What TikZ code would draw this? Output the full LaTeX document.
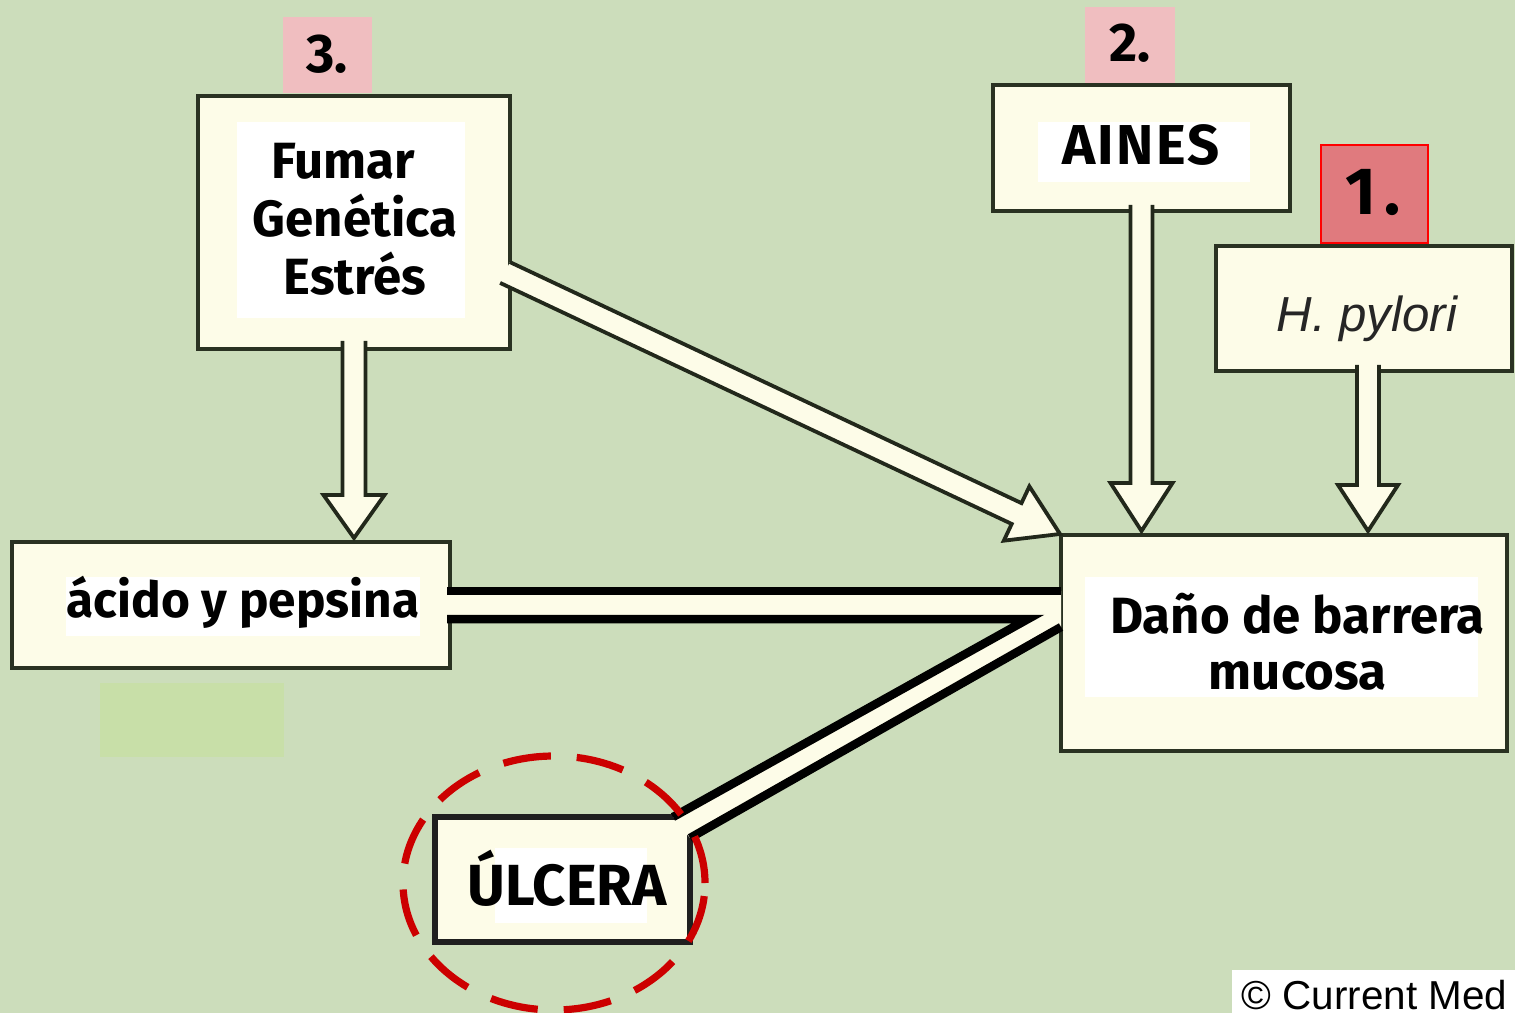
\documentclass[tikz,border=0pt]{standalone}
\usepackage{fontspec}
\setmainfont{Fira Sans}
\newfontfamily\arialf{Liberation Sans}
\usetikzlibrary{calc}
\definecolor{bg}{RGB}{204,221,187}
\definecolor{cream}{RGB}{253,252,232}
\definecolor{edge}{RGB}{42,50,34}
\definecolor{pinkl}{RGB}{240,190,192}
\definecolor{redl}{RGB}{224,122,126}
\definecolor{redd}{RGB}{204,0,0}
\definecolor{patchc}{RGB}{200,223,168}
\newcommand\myLbl{\fontsize{14.5}{16.5}\selectfont\bfseries}
\newcommand\myNum{\fontsize{15.5}{18}\selectfont\bfseries}
\newcommand\myBig{\fontsize{19}{22}\selectfont\bfseries}
% #1 start, #2 tip, #3 shaft half width, #4 head half width, #5 head length
\newcommand{\blockarr}[5]{%
  \coordinate (hb) at ($(#2)!#5!(#1)$);
  \fill[cream] ($(#1)!#3!90:(#2)$) -- ($(hb)!#3!90:(#2)$) -- ($(hb)!#4!90:(#2)$) -- (#2)
    -- ($(hb)!#4!-90:(#2)$) -- ($(hb)!#3!-90:(#2)$) -- ($(#1)!#3!-90:(#2)$) -- cycle;
  \draw[arrline] ($(#1)!#3!90:(#2)$) -- ($(hb)!#3!90:(#2)$) -- ($(hb)!#4!90:(#2)$) -- (#2)
    -- ($(hb)!#4!-90:(#2)$) -- ($(hb)!#3!-90:(#2)$) -- ($(#1)!#3!-90:(#2)$);
}
\begin{document}
\begin{tikzpicture}[x=0.1mm,y=-0.1mm,
  box/.style={draw=edge,line width=0.45mm,fill=cream,inner sep=0pt,outer sep=0pt},
  lbl/.style={font=\myLbl,text=black,inner sep=0pt},
  num/.style={font=\myNum,text=black,inner sep=0pt},
  arrline/.style={draw=edge!80!black,line width=0.38mm,line join=miter},
  band/.style={draw=black,line width=0.85mm}]
\useasboundingbox (0,0) rectangle (1515,1013);
\fill[bg] (0,0) rectangle (1515,1013);
\fill[patchc] (100,683) rectangle (284,757);

% boxes
\node[box,minimum width=31.2mm,minimum height=25.3mm] (fumar) at (354,222.5) {};
\node[box,minimum width=29.7mm,minimum height=12.6mm] (aines) at (1141.5,148) {};
\node[box,minimum width=29.6mm,minimum height=12.5mm] (hpyl) at (1364,308.5) {};
\node[box,minimum width=43.8mm,minimum height=12.6mm] (acido) at (231,605) {};
\node[box,minimum width=44.6mm,minimum height=21.6mm] (dano) at (1284,643) {};
\node[box,draw=black!88,line width=0.65mm,minimum width=25.5mm,minimum height=12.5mm] (ulcera) at (562.5,879.5) {};

% white panels
\fill[white] (237,122) rectangle (465,318);
\fill[white] (1038,122) rectangle (1250,182);
\fill[white] (66,577) rectangle (420,636);
\fill[white] (1085,577) rectangle (1478,697);
\fill[white] (495,848) rectangle (647,923);

% number tags
\fill[pinkl] (283,17) rectangle (372,93);
\fill[pinkl] (1085,7) rectangle (1175,83);
\filldraw[fill=redl,draw=red,line width=0.15mm] (1321,145) rectangle (1428,243);
\node[num,anchor=base] (n3) at (327,73) {3.};
\node[num,anchor=base] (n2) at (1130,62) {2.};
\node[num,font=\myBig,anchor=base] (n1) at (1373,215) {1\kern0.12em.};

% block arrows
\coordinate (a1s) at ($(fumar.south)+(0,-8)$);
\coordinate (a1e) at ($(fumar.south |- acido.north)+(0,-4)$);
\blockarr{a1s}{a1e}{1.15mm}{3.05mm}{4.3mm}
\coordinate (a2s) at ($(fumar.east)+(-5,50)$);
\coordinate (a2e) at ($(dano.north west)+(-1,-1)$);
\blockarr{a2s}{a2e}{1.15mm}{3.0mm}{4.8mm}
\coordinate (a3s) at ($(aines.south)+(0,-6)$);
\coordinate (a3e) at ($(aines.south |- dano.north)+(0,-4)$);
\blockarr{a3s}{a3e}{1.1mm}{3.1mm}{4.8mm}
\coordinate (a4s) at ($(hpyl.south)+(4,-6)$);
\coordinate (a4e) at ($(hpyl.south |- dano.north)+(4,-4)$);
\blockarr{a4s}{a4e}{1.1mm}{3.0mm}{4.6mm}

% double band acido - dano - ulcera
\coordinate (b1) at ($(acido.east)+(-3,-14)$);
\coordinate (b2) at (dano.west |- b1);
\coordinate (b3) at ($(acido.east)+(-3,14)$);
\coordinate (b4) at ($(dano.west |- b3)+(-33,0)$);
\coordinate (b5) at ($(ulcera.north east)+(-17,0)$);
\coordinate (b6) at ($(dano.west)+(0,-16)$);
\coordinate (b7) at ($(ulcera.north east)+(0,21)$);
\fill[cream] (b1) -- (b2) -- (b6) -- (b7) -- (b5) -- (b4) -- (b3) -- cycle;
\draw[band] (b1) -- (b2);
\draw[band,line join=miter] (b3) -- (b4) -- (b5);
\draw[band] (b6) -- (b7);

% texts
\node[lbl,align=center] (tfumar) at (355,219) {Fumar\kern0.45em\\Genética\\Estrés};
\node[lbl,anchor=base,font=\fontsize{16}{18}\selectfont\bfseries\addfontfeature{LetterSpace=4}] (taines) at (1141,165) {AINES};
\node[inner sep=0pt,anchor=base,font=\arialf\itshape\fontsize{14}{16}\selectfont,text=black!85] (thp) at (1367,332) {H. pylori};
\node[lbl,anchor=base,font=\fontsize{14.1}{16.5}\selectfont\bfseries] (tacido) at (243,617) {ácido y pepsina};
\node[lbl,align=center,font=\fontsize{14.5}{16}\selectfont\bfseries] (tdano) at (1297.5,641.5) {Daño de barrera\\mucosa};
\node[lbl,anchor=base,font=\fontsize{16.5}{19}\selectfont\bfseries] (tulc) at (567,905) {ÚLCERA};

% dashed circle
\draw[redd,line width=0.72mm,dash pattern=on 4.8mm off 2.6mm] ($(ulcera.center)+(-8.5,3.5)$) ellipse [x radius=15.1mm,y radius=12.7mm];

% credit
\fill[white] (1232,970) rectangle (1515,1013);
\node[inner sep=0pt,anchor=base west,font=\arialf\fontsize{11.5}{13}\selectfont] (cm) at (1241,1009) {© Current Med};
\end{tikzpicture}
\end{document}
